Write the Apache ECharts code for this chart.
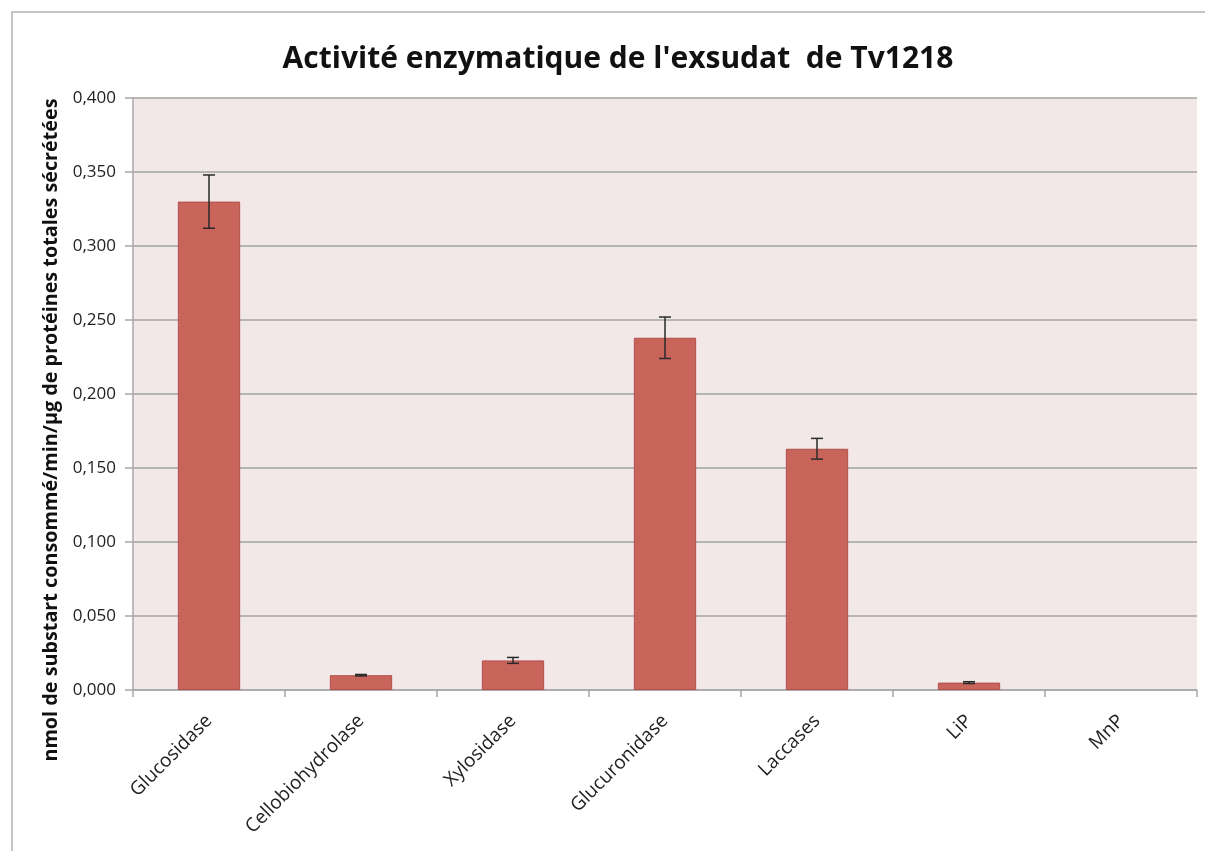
<!DOCTYPE html>
<html>
<head>
<meta charset="utf-8">
<script src="https://cdn.jsdelivr.net/npm/echarts@6/dist/echarts.min.js"></script>
<style>
  html, body { margin: 0; padding: 0; background: #ffffff; }
  #chart { width: 1205px; height: 851px; }
</style>
</head>
<body>
<div id="chart"></div>
<script>
// Enzyme activity of the Tv1218 exudate (mean ± error)
const categories = ['Glucosidase', 'Cellobiohydrolase', 'Xylosidase', 'Glucuronidase', 'Laccases', 'LiP', 'MnP'];
const activity = [0.330, 0.010, 0.020, 0.238, 0.163, 0.005, 0.000];
const errors = [0.018, 0.0005, 0.002, 0.014, 0.007, 0.0006, 0];
const yTicks = [0, 0.05, 0.1, 0.15, 0.2, 0.25, 0.3, 0.35, 0.4];

const FONT = 'Open Sans';
const chart = echarts.init(document.getElementById('chart'));

const errorData = activity.map((v, i) => [i, v - errors[i], v + errors[i]]);
const barData = activity.map(v => (v > 0 ? v : { value: v, itemStyle: { borderWidth: 0 } }));

chart.setOption({
  backgroundColor: '#ffffff',
  animation: false,
  title: {
    text: "Activité enzymatique de l'exsudat  de Tv1218",
    left: 613,
    textAlign: 'center',
    top: 39,
    textStyle: { fontFamily: FONT, fontSize: 30, fontWeight: 'bold', color: '#111' }
  },
  graphic: [{
    type: 'rect',
    shape: { x: 12, y: 12, width: 1300, height: 1000 },
    style: { fill: 'none', stroke: '#c4c4c4', lineWidth: 2 },
    silent: true
  }],
  grid: {
    left: 133, right: 8, top: 98, bottom: 161,
    show: true, backgroundColor: '#f3e8e8', borderWidth: 0
  },
  xAxis: {
    type: 'category',
    data: categories,
    axisLine: { lineStyle: { color: '#a8a8a8', width: 1.5 } },
    axisTick: { show: true, alignWithLabel: false, length: 7, lineStyle: { color: '#a8a8a8', width: 1.5 } },
    axisLabel: {
      interval: 0, rotate: 45, margin: 28,
      fontFamily: FONT, fontSize: 19, color: '#222'
    }
  },
  yAxis: {
    type: 'value',
    min: 0, max: 0.4, interval: 0.05,
    name: 'nmol de substart consommé/min/µg de protéines totales sécrétées',
    nameLocation: 'middle',
    nameGap: 70,
    nameTextStyle: { fontFamily: FONT, fontSize: 19.8, fontWeight: 'bold', color: '#111', padding: [0, 72, 0, 0] },
    axisLine: { show: true, lineStyle: { color: '#a8a8a8', width: 1.5 } },
    axisTick: { show: true, length: 8, lineStyle: { color: '#a8a8a8', width: 1.5 } },
    splitLine: { lineStyle: { color: '#a3a3a3', width: 1.5 } },
    axisLabel: {
      fontFamily: FONT, fontSize: 17, color: '#222', margin: 17,
      formatter: v => {
        const t = yTicks.find(x => Math.abs(x - v) < 1e-9);
        return (t !== undefined ? t : v).toFixed(3).replace('.', ',');
      }
    }
  },
  series: [
    {
      type: 'bar',
      data: barData,
      barWidth: '41%',
      itemStyle: { color: '#c9645b', borderColor: '#b0504a', borderWidth: 1 }
    },
    {
      type: 'custom',
      data: errorData,
      z: 10,
      renderItem: (params, api) => {
        const i = api.value(0);
        if (api.value(2) - api.value(1) <= 0) return null;
        const lo = api.coord([i, api.value(1)]);
        const hi = api.coord([i, api.value(2)]);
        const cap = 6;
        const style = { stroke: '#2a2a2a', lineWidth: 1.5 };
        return {
          type: 'group',
          children: [
            { type: 'line', shape: { x1: hi[0], y1: hi[1], x2: lo[0], y2: lo[1] }, style },
            { type: 'line', shape: { x1: hi[0] - cap, y1: hi[1], x2: hi[0] + cap, y2: hi[1] }, style },
            { type: 'line', shape: { x1: lo[0] - cap, y1: lo[1], x2: lo[0] + cap, y2: lo[1] }, style }
          ]
        };
      }
    }
  ]
});
</script>
</body>
</html>
